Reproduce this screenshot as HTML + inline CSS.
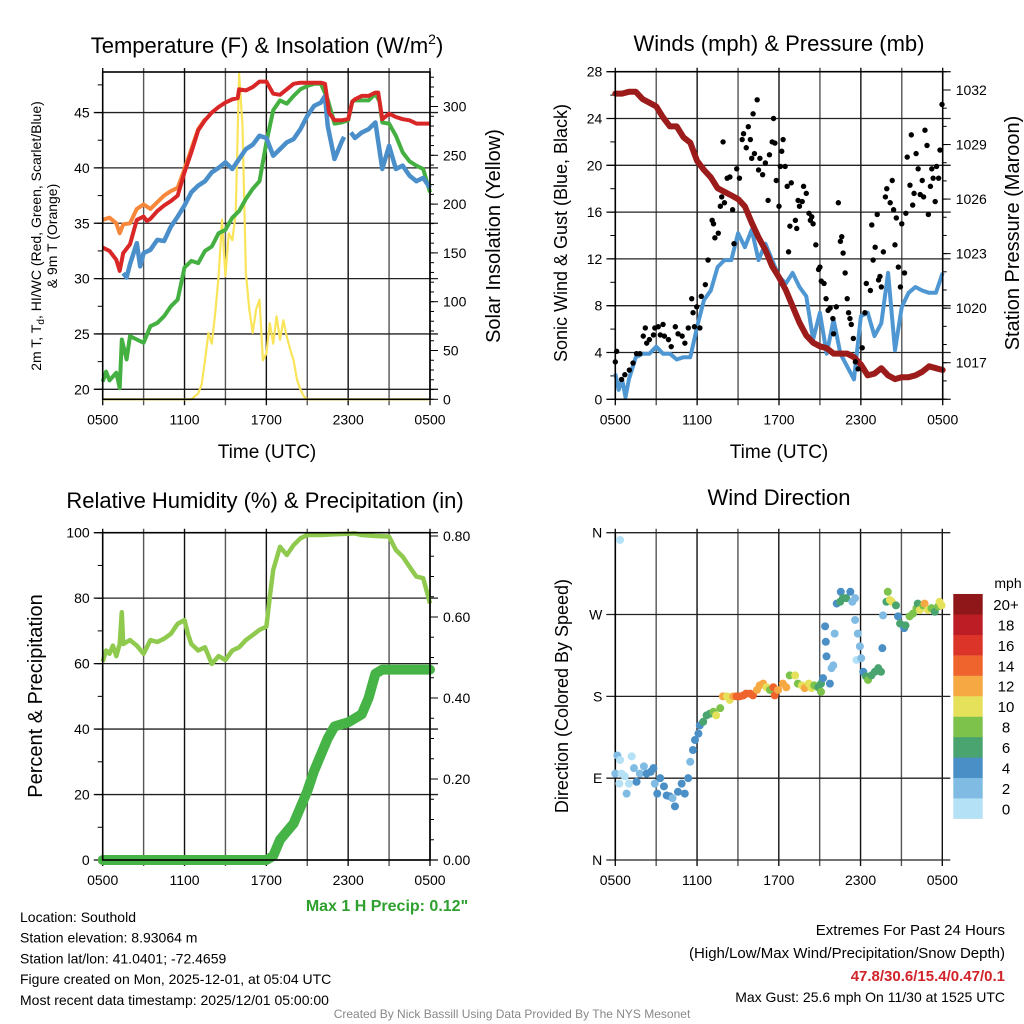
<!DOCTYPE html>
<html><head><meta charset="utf-8"><style>
html,body{margin:0;padding:0;background:#fff;}
svg{display:block;font-family:"Liberation Sans",Arial,sans-serif;}
</style></head><body>
<svg id="chart" width="1024" height="1024" viewBox="0 0 1024 1024" xmlns="http://www.w3.org/2000/svg"></svg>
<script>
// ---------- DATA ----------
const xTickLabels = ["0500","1100","1700","2300","0500"];
const redHours = [0,0.5,1,1.25,1.5,2,2.5,3,3.25,3.5,4,4.5,5,5.5,6,6.5,7,7.5,8,8.5,9,9.5,9.9,10,10.5,11,11.5,12,12.5,13,13.5,14,14.5,15,15.5,16,16.3,16.6,17,17.5,18,18.3,18.5,19,19.5,20,20.2,20.5,21,21.5,22,22.5,23,23.5,24];
const redT = [32.8,32.5,31.7,30.7,32.3,33.1,35.3,35.6,35.2,35.4,36.1,36.6,37.0,37.5,39.6,41.4,43.4,44.3,45.0,45.5,45.9,46.2,46.3,47.1,47.0,47.3,47.8,47.8,46.7,46.6,47.1,47.6,47.7,47.7,47.7,47.7,47.6,45.0,44.3,44.3,44.4,46.0,46.2,46.5,46.5,46.8,46.8,44.4,44.9,44.6,44.4,44.3,44.0,44.0,44.0];
const orangeHours = [0,0.5,1,1.25,1.5,2,2.5,3,3.5,4,4.5,5,5.5,6,6.5,7,7.5];
const orangeT = [35.3,35.5,35.0,34.1,34.9,35.0,36.3,36.7,36.3,36.9,37.5,37.9,38.2,39.9,41.7,43.5,44.4];
const greenHours = [0,0.25,0.5,1,1.25,1.4,1.75,2,2.5,3,3.5,4,4.5,5,5.5,6,6.5,7,7.5,8,8.5,9,9.5,10,10.5,11,11.5,12,12.5,13,13.5,14,14.5,15,15.5,16,16.5,17,17.5,18,18.3,18.5,19,19.5,20,20.3,20.5,21,21.5,22,22.5,23,23.5,24];
const greenTd = [20.7,21.6,20.8,21.5,20.1,24.5,22.7,24.8,24.5,24.2,25.7,26.0,26.6,27.5,28.1,31.0,31.6,31.4,32.5,32.9,34.1,34.4,35.5,36.1,37.2,38.1,38.8,42.3,45.2,46.1,45.8,46.5,47.1,47.4,47.6,47.6,46.2,44.0,44.1,44.3,46.0,46.1,46.1,46.1,46.7,46.0,44.1,44.0,42.9,41.4,40.6,40.2,39.9,37.8];
const blueHours = [1.5,1.75,2,2.5,2.75,3,3.5,4,4.5,5,5.5,6,6.5,7,7.5,8,8.5,9,9.5,10,10.5,11,11.5,12,12.5,13,13.5,14,14.5,15,15.5,16,16.3,16.5,17,17.5,17.7,17.9,18.2,18.5,19,19.5,20,20.5,21,21.5,22,22.5,23,23.5,24];
const blueWC = [30.5,30.1,31.3,33.2,31.1,32.3,32.6,33.5,33.4,34.7,35.6,36.6,37.8,38.4,38.8,39.6,40.0,40.5,39.9,40.8,41.7,42.1,42.9,42.7,41.1,41.7,42.3,42.6,43.5,44.7,45.6,45.9,46.5,43.8,40.8,42.3,42.8,null,43.2,42.7,43.2,43.5,44.1,39.9,42.0,39.9,40.2,39.3,38.8,39.1,38.2];
const solarHours = [0,6.5,7,7.25,7.5,7.75,8,8.25,8.5,8.75,9,9.25,9.5,9.75,10,10.25,10.5,10.75,11,11.25,11.5,11.75,12,12.25,12.5,12.75,13,13.25,13.5,13.75,14,14.25,14.5,14.75,15,24];
const solarW = [0,0,6,15,40,68,57,88,126,184,126,170,163,190,334,280,129,92,68,92,102,40,47,78,57,85,61,81,64,51,40,20,10,3,0,0];
const tempTicks = [20,25,30,35,40,45];
const solarTicks = [0,50,100,150,200,250,300];

const windHours = [0,0.25,0.5,0.75,1,1.5,2,2.5,3,3.5,4,4.5,5,5.5,6,6.5,7,7.5,8,8.5,9,9.5,10,10.5,11,11.5,12,12.5,13,13.5,14,14.5,15,15.5,16,16.5,17,17.5,18,18.5,19,19.5,20,20.5,21,21.5,22,22.5,23,23.5,24];
const windSpd = [2.2,0.8,1.7,0.2,1.7,3.6,3.9,3.9,4.5,3.9,3.9,3.4,3.6,3.6,6.2,8.5,9.3,11.3,11.9,11.9,14.2,13.0,14.5,11.9,13.3,11.9,10.5,9.9,10.8,9.6,8.8,5.1,7.4,3.9,6.8,3.9,2.8,1.7,7.1,7.4,5.4,6.5,10.8,4.2,7.9,9.1,9.6,9.3,9.1,9.1,10.8];
const gustHours = [0,0.1,0.46,0.7,1.03,1.3,1.56,1.8,2.05,2.2,2.3,2.5,2.8,2.9,3.15,3.3,3.5,3.6,3.9,4.1,4.4,4.6,4.9,5.1,5.35,5.6,5.7,5.8,5.97,6.2,6.3,6.6,6.8,7.1,7.2,7.3,7.55,7.7,7.8,7.9,8.0,8.2,8.4,8.6,8.7,8.9,9.1,9.3,9.4,9.6,9.75,9.9,10.0,10.1,10.2,10.4,10.5,10.6,10.8,11.0,11.2,11.3,11.5,11.6,11.7,11.8,12.0,12.1,12.2,12.3,12.45,12.6,12.7,12.8,12.9,13.2,13.3,13.4,13.5,13.7,13.8,14.0,14.2,14.3,14.4,14.5,14.7,14.9,15.0,15.1,15.3,15.45,15.6,15.75,15.95,16.0,16.2,16.35,16.5,16.6,16.7,16.85,17.0,17.1,17.2,17.3,17.45,17.6,17.8,18.1,18.3,18.4,18.7,18.8,18.9,19.05,19.2,19.3,19.4,19.5,19.65,19.8,19.9,20.15,20.3,20.4,20.5,20.6,20.75,20.9,21.0,21.2,21.3,21.4,21.6,21.7,21.8,21.9,22.05,22.2,22.35,22.5,22.6,22.7,22.85,22.95,23.1,23.2,23.3,23.45,23.55,23.7,23.8,23.95];
const gustSpd = [3.2,4.1,1.7,2.1,2.5,3.1,3.9,3.9,5.4,6.1,4.8,5.1,5.5,6.1,6.2,5.5,6.4,5.4,5.1,4.5,6.2,5.6,5.4,4.8,6.1,8.6,7.4,6.2,7.9,6.1,8.8,9.8,11.9,15.3,15.0,13.8,14.2,16.5,17.3,22.0,16.8,18.9,19.0,16.2,13.3,19.7,18.9,22.2,22.7,21.5,23.3,22.2,20.6,24.4,21.0,25.6,19.6,20.6,19.2,20.2,17.0,20.9,22.0,24.0,21.9,18.7,16.5,19.9,21.2,22.2,19.9,18.2,12.6,14.8,18.5,15.3,14.6,17.0,16.5,16.9,18.2,17.6,15.9,15.3,15.6,15.0,13.2,11.1,11.3,10.1,9.9,8.6,7.6,7.8,6.9,5.6,7.9,16.8,13.5,13.9,12.5,10.8,8.6,7.4,6.9,6.4,5.2,3.2,2.6,4.4,7.4,9.9,9.3,14.9,11.9,13.0,15.8,10.2,10.5,9.6,12.6,17.3,18.0,16.8,18.7,16.2,13.2,15.5,11.3,9.6,15.0,10.8,15.9,20.7,18.3,22.6,16.6,17.6,21.0,19.7,17.5,18.7,17.3,23.0,21.7,15.8,18.2,19.7,18.9,16.9,19.9,18.9,21.3,25.2];
const presHours = [0,0.5,1,1.5,2,2.5,3,3.5,4,4.5,5,5.5,6,6.5,7,7.5,8,8.5,9,9.5,10,10.5,11,11.5,12,12.5,13,13.5,14,14.5,15,15.5,16,16.5,17,17.5,18,18.5,19,19.5,20,20.5,21,21.5,22,22.5,23,23.5,24];
const presMb = [1031.8,1031.8,1031.9,1031.9,1031.5,1031.3,1031.1,1030.5,1030.0,1030.0,1029.4,1029.1,1028.1,1027.6,1027.2,1026.6,1026.4,1026.2,1026.0,1025.6,1024.7,1023.9,1023.2,1022.3,1021.7,1021.0,1020.1,1019.2,1018.5,1018.1,1017.9,1017.8,1017.5,1017.5,1017.5,1017.3,1016.9,1016.3,1016.4,1016.7,1016.3,1016.1,1016.2,1016.2,1016.3,1016.5,1016.8,1016.7,1016.6];
const windTicks = [0,4,8,12,16,20,24,28];
const presTicks = [1017,1020,1023,1026,1029,1032];

const rhHours = [0,0.25,0.5,0.75,1,1.25,1.4,1.5,2,2.5,3,3.5,4,4.5,5,5.5,6,6.25,6.5,7,7.5,8,8.5,9,9.5,10,10.5,11,11.5,12,12.25,12.5,13,13.5,14,14.5,15,16,17,18,18.5,19,20,21,21.5,22,22.5,23,23.5,24];
const rhPct = [60.6,64,63,65.5,62.3,66,75.7,66,67.2,65.5,63,67.2,66.6,67.6,69.1,72.2,73.3,69.1,66,64,65,59.9,62.3,61.1,64,65,67.2,68.7,70.3,71.3,80.4,88.6,95.7,93.2,96.2,98.3,99.3,99.3,99.5,99.7,99.8,99.3,99,98.8,94.7,92.7,89.6,86.6,86.1,78.4];
const precHours = [0,12,12.5,13,13.5,14,14.5,15,15.5,16,16.5,17,17.5,18,18.5,19,19.5,20,20.5,24];
const precIn = [0,0,0.01,0.05,0.07,0.09,0.13,0.17,0.22,0.26,0.30,0.33,0.335,0.34,0.35,0.36,0.40,0.46,0.47,0.47];
const rhTicks = [0,20,40,60,80,100];
const precTicks = ["0.00","0.20","0.40","0.60","0.80"];

const dirHours = [0,0.15,0.35,0.46,0.3,0.7,0.83,1.0,1.2,1.37,1.56,1.8,2.1,2.3,2.6,2.8,2.9,3.08,3.3,3.57,3.77,4.0,4.2,4.38,4.6,4.87,5.1,5.35,5.5,5.7,5.85,6.1,6.2,6.45,6.7,6.95,7.2,7.4,7.7,7.9,8.2,8.4,8.65,8.9,9.15,9.4,9.6,9.9,10.1,10.4,10.6,10.85,11.1,11.35,11.6,11.7,11.95,12.3,12.55,12.8,13.2,13.4,13.7,13.9,14.2,14.4,14.6,14.9,15.1,15.1,15.25,15.4,15.45,15.5,15.75,15.87,16.0,16.1,16.25,16.5,16.55,16.7,16.95,17.25,17.4,17.6,17.6,17.7,17.8,17.95,18.05,18.2,18.4,18.55,18.8,19.05,19.3,19.5,19.6,19.65,19.9,20.0,20.15,20.3,20.6,20.75,20.9,21.2,21.3,21.6,21.85,22.1,22.2,22.35,22.6,22.7,22.95,23.2,23.45,23.7,23.8,23.95,0.35];
const dirDeg = [95,115,110,95,84,92,73,84,114,101,86,95,103,95,97,101,84,73,90,81,71,70,68,59,75,84,73,90,108,121,132,139,148,152,159,161,163,159,167,180,180,176,180,180,180,181,183,183,181,187,192,194,190,187,190,181,187,194,190,203,203,194,192,189,194,189,192,190,185,194,200,257,240,224,194,211,214,249,282,284,295,288,288,295,284,288,264,220,249,235,222,207,202,198,203,207,211,207,233,269,284,295,286,284,280,268,260,255,258,268,271,277,282,275,280,282,275,277,273,279,284,280,352];
const dirSpd = [3,3,1,1,1,1,2,1,1,3,4,3,3,4,4,4,3,4,4,4,4,4,3,4,4,4,4,4,3,4,4,5,4,6,6,7,9,10,8,12,11,11,12,14,14,15,15,14,14,12,12,13,10,9,15,15,12,12,13,8,10,8,10,12,10,10,8,7,8,6,4,4,4,4,4,3,3,3,4,6,4,6,6,4,3,2,2,1,3,2,2,4,7,8,7,6,6,7,4,2,6,8,10,11,6,4,6,4,6,8,8,9,6,10,8,12,10,8,6,8,10,10,1];
const dirTicks = ["N","E","S","W","N"];
const barLabels = ["0","2","4","6","8","10","12","14","16","18","20+"];
const barColors = ["#b4e1f6","#80bbe3","#4a8fc5","#4aa470","#7cc24b","#e6e15a","#f6a843","#ef632c","#dc3429","#bd1e25","#8f1719"];

// ---------- HELPERS ----------
const NS = "http://www.w3.org/2000/svg";
const svg = document.getElementById("chart");
function mk(tag, attrs, parent) {
  const e = document.createElementNS(NS, tag);
  for (const k in attrs) e.setAttribute(k, attrs[k]);
  (parent || svg).appendChild(e);
  return e;
}
function txt(s, x, y, size, anchor, extra, parent) {
  const t = mk("text", Object.assign({x: x, y: y, "font-size": size, "text-anchor": anchor || "middle", fill: "#000"}, extra || {}), parent);
  t.textContent = s;
  return t;
}
function pathFrom(hs, vs, xf, yf) {
  let d = "", pen = false;
  for (let i = 0; i < hs.length; i++) {
    if (vs[i] === null) { pen = false; continue; }
    d += (pen ? "L" : "M") + xf(hs[i]).toFixed(1) + "," + yf(vs[i]).toFixed(1);
    pen = true;
  }
  return d;
}
function panel(name, x0, x1, y0, y1) {
  const g = mk("g", {});
  
  
  return {g: g, x0: x0, x1: x1, y0: y0, y1: y1, xs: h => x0 + h / 24 * (x1 - x0)};
}
function grid(p, leftVals, yf) {
  for (let i = 0; i <= 8; i++) {
    const x = p.xs(i * 3);
    const l = mk("line", {x1: x, x2: x, y1: p.y0 - 4, y2: p.y1 + 6, stroke: i % 2 ? "#555" : "#111", "stroke-width": 1.4}, p.g);
    
    
  }
  leftVals.forEach(v => {
    const y = yf(v);
    const l = mk("line", {x1: p.x0 - 9, x2: p.x1 + 8, y1: y, y2: y, stroke: "#222", "stroke-width": 1.3}, p.g);
    
    
  });
  xTickLabels.forEach((s, i) => {
    const t = txt(s, p.xs(i * 6), p.y1 + 25, 14, "middle", {}, p.g);
    
    
  });
}
function frame(p) {
  const r = mk("rect", {x: p.x0, y: p.y0, width: p.x1 - p.x0, height: p.y1 - p.y0, fill: "none", stroke: "#000", "stroke-width": 1.6}, p.g);
  
  
}
function ticks(p, side, vals, yf, len, labels) {
  vals.forEach((v, i) => {
    const y = yf(v);
    const x = side === "left" ? p.x0 : p.x1;
    const dx = side === "left" ? -len : len;
    const l = mk("line", {x1: x, x2: x + dx, y1: y, y2: y, stroke: "#000", "stroke-width": 1}, p.g);
    
    
    if (labels) {
      const t = txt(labels[i], side === "left" ? p.x0 - 13 : p.x1 + 13, y + 5, 14, side === "left" ? "end" : "start", {}, p.g);
      
      
    }
  });
}
function rotText(s, x, y, size, name) {
  const t = txt(s, x, y, size, "middle", {transform: "rotate(-90 " + x + " " + y + ")"});
  
  
  return t;
}
function range(a, b, s) { const r = []; for (let v = a; v <= b + 1e-9; v += s) r.push(+v.toFixed(4)); return r; }

// ---------- PANEL 1: Temperature ----------
const p1 = panel("temperature-panel", 102.7, 430, 72, 399.3);
const yT = v => 389.3 - (v - 20) * 11.07;
const yS = w => 399.3 - w * 0.976;
grid(p1, tempTicks, yT);
ticks(p1, "left", range(20, 47.5, 2.5), yT, 5);
ticks(p1, "left", tempTicks, yT, 8, tempTicks.map(String));
ticks(p1, "right", range(0, 330, 10), yS, 4);
ticks(p1, "right", solarTicks, yS, 8, solarTicks.map(String));
let e;
e = mk("path", {d: pathFrom(solarHours, solarW, p1.xs, yS), fill: "none", stroke: "#f9e45a", "stroke-width": 2.2, "stroke-linejoin": "round"}, p1.g);


e = mk("path", {d: pathFrom(greenHours, greenTd, p1.xs, yT), fill: "none", stroke: "#45b042", "stroke-width": 4, "stroke-linejoin": "round"}, p1.g);


e = mk("path", {d: pathFrom(blueHours, blueWC, p1.xs, yT), fill: "none", stroke: "#4a8fca", "stroke-width": 4.5, "stroke-linejoin": "round"}, p1.g);


e = mk("path", {d: pathFrom(orangeHours, orangeT, p1.xs, yT), fill: "none", stroke: "#f7873a", "stroke-width": 4, "stroke-linejoin": "round"}, p1.g);


e = mk("path", {d: pathFrom(redHours, redT, p1.xs, yT), fill: "none", stroke: "#d92626", "stroke-width": 4, "stroke-linejoin": "round"}, p1.g);


frame(p1);
e = txt("", 267, 53, 22, "middle");
e.innerHTML = 'Temperature (F) &amp; Insolation (W/m<tspan font-size="14" dy="-9">2</tspan><tspan dy="9">)</tspan>';


e = txt("Time (UTC)", 267, 458, 19, "middle");


e = rotText("", 41, 236, 14, "temperature-y-axis-title");
e.innerHTML = '2m T, T<tspan font-size="10" dy="3">d</tspan><tspan dy="-3">, HI/WC (Red, Green, Scarlet/Blue)</tspan>';
rotText("& 9m T (Orange)", 57, 236, 14, "temperature-y-axis-title-line2");
rotText("Solar Insolation (Yellow)", 500, 236, 20, "solar-y-axis-title");

// ---------- PANEL 2: Winds ----------
const p2 = panel("winds-panel", 615.3, 942.7, 71.7, 399.3);
const yW = v => 399.3 - v * 11.7;
const yP = p => 90 - (p - 1032) * 18.18;
grid(p2, windTicks, yW);
ticks(p2, "left", range(0, 28, 2), yW, 5);
ticks(p2, "left", windTicks, yW, 8, windTicks.map(String));
ticks(p2, "right", range(1015, 1033, 1), yP, 4);
ticks(p2, "right", presTicks, yP, 8, presTicks.map(String));
e = mk("path", {d: pathFrom(windHours, windSpd, p2.xs, yW), fill: "none", stroke: "#4f97d2", "stroke-width": 4, "stroke-linejoin": "round"}, p2.g);


e = mk("path", {d: pathFrom(presHours, presMb, p2.xs, yP), fill: "none", stroke: "#9c1b1b", "stroke-width": 6, "stroke-linejoin": "round", "stroke-linecap": "round"}, p2.g);


for (let i = 0; i < gustHours.length; i++) {
  const c = mk("circle", {cx: p2.xs(gustHours[i]), cy: yW(gustSpd[i]), r: 2.7, fill: "#000"}, p2.g);
  
  
}
frame(p2);
e = txt("Winds (mph) & Pressure (mb)", 779, 51, 22, "middle");


e = txt("Time (UTC)", 779, 458, 19, "middle");


rotText("Sonic Wind & Gust (Blue, Black)", 567, 233, 18, "wind-y-axis-title");
rotText("Station Pressure (Maroon)", 1019, 233, 20, "pressure-y-axis-title");

// ---------- PANEL 3: RH & Precip ----------
const p3 = panel("humidity-panel", 102.7, 430, 532.7, 860);
const yR = v => 860 - v * 3.273;
const yPr = v => 860 - v * 405;
grid(p3, rhTicks, yR);
ticks(p3, "left", range(0, 100, 10), yR, 5);
ticks(p3, "left", rhTicks, yR, 8, rhTicks.map(String));
ticks(p3, "right", range(0, 0.8, 0.05), yPr, 4);
ticks(p3, "right", precTicks.map(Number), yPr, 8, precTicks);
e = mk("path", {d: pathFrom(rhHours, rhPct, p3.xs, yR), fill: "none", stroke: "#8fca4e", "stroke-width": 4.5, "stroke-linejoin": "round"}, p3.g);


e = mk("path", {d: pathFrom(precHours, precIn, p3.xs, yPr), fill: "none", stroke: "#46b346", "stroke-width": 10, "stroke-linejoin": "round", "stroke-linecap": "round"}, p3.g);


frame(p3);
e = txt("Relative Humidity (%) & Precipitation (in)", 265, 508, 22, "middle");


rotText("Percent & Precipitation", 42, 696, 20, "humidity-y-axis-title");
e = txt('Max 1 H Precip: 0.12"', 387, 911, 16, "middle", {fill: "#2ea02e", "font-weight": "bold"});



// ---------- PANEL 4: Wind direction ----------
const p4 = panel("wind-direction-panel", 615.3, 942.3, 532.7, 860);
const yD = d => 860 - d * 0.9092;
grid(p4, [0, 90, 180, 270, 360], yD);
ticks(p4, "left", [0, 90, 180, 270, 360], yD, 1, dirTicks);
e = mk("line", {x1: p4.x0, x2: p4.x0, y1: p4.y0, y2: p4.y1, stroke: "#000", "stroke-width": 1.6}, p4.g);


function spdColor(s) { return barColors[Math.min(10, Math.floor(s / 2))]; }
for (let i = 0; i < dirHours.length; i++) {
  const c = mk("circle", {cx: p4.xs(dirHours[i]), cy: yD(dirDeg[i]), r: 4, fill: spdColor(dirSpd[i])}, p4.g);
  
  
}
e = txt("Wind Direction", 779, 505, 22, "middle");


rotText("Direction (Colored By Speed)", 568, 696, 18, "direction-y-axis-title");
const cb = mk("g", {});


barColors.forEach((c, i) => {
  const y = 818.7 - (i + 1) * 20.43;
  const r = mk("rect", {x: 953.3, y: y, width: 29.4, height: 20.6, fill: c}, cb);
  
  
  const t = txt(barLabels[i], 1006, y + 16, 15, "middle", {}, cb);
  
  
});
e = txt("mph", 1008, 588, 14, "middle");



// ---------- FOOTER TEXT ----------
const infoLines = ["Location: Southold","Station elevation: 8.93064 m","Station lat/lon: 41.0401; -72.4659","Figure created on Mon, 2025-12-01, at 05:04 UTC","Most recent data timestamp: 2025/12/01 05:00:00"];
infoLines.forEach((s, i) => {
  const t = txt(s, 20, 922 + i * 20.7, 14, "start");
  
  
});
e = txt("Extremes For Past 24 Hours", 1005, 935, 15, "end");


e = txt("(High/Low/Max Wind/Precipitation/Snow Depth)", 1005, 958, 15, "end");


e = txt("47.8/30.6/15.4/0.47/0.1", 1005, 981, 15, "end", {fill: "#d0232a", "font-weight": "bold"});


e = txt("Max Gust: 25.6 mph On 11/30 at 1525 UTC", 1005, 1002, 14, "end");


e = txt("Created By Nick Bassill Using Data Provided By The NYS Mesonet", 512, 1018, 12, "middle", {fill: "#888"});


</script>
</body></html>
